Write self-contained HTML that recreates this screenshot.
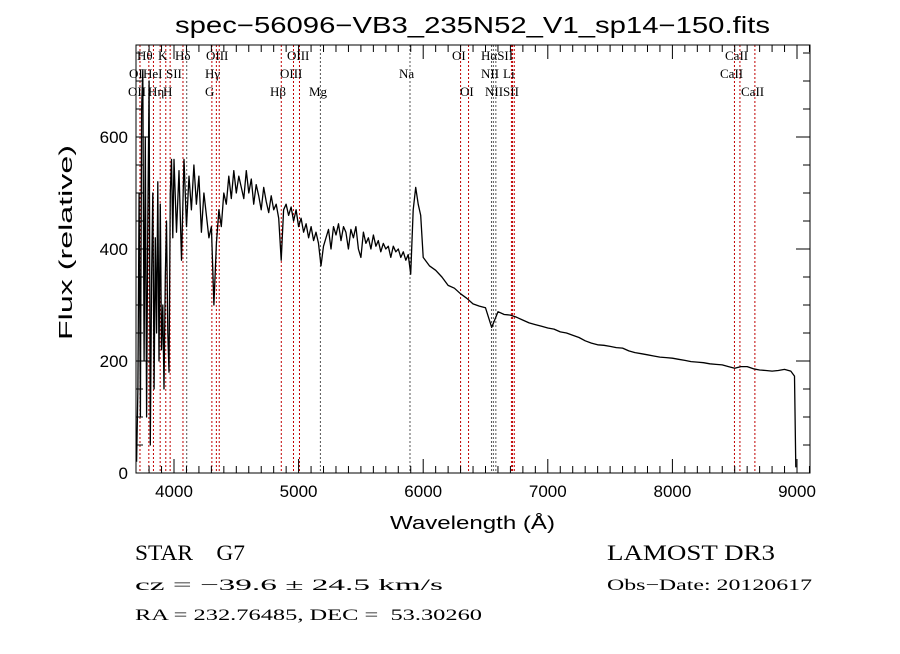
<!DOCTYPE html>
<html><head><meta charset="utf-8"><style>
body{margin:0;background:#fff;}
svg text{font-family:"Liberation Sans",sans-serif;}
.lab{font-family:"Liberation Serif",serif;font-size:13px;}
.ser{font-family:"Liberation Serif",serif;white-space:pre;}
</style></head><body>
<svg id="chart" width="900" height="649" xmlns="http://www.w3.org/2000/svg">
<rect width="900" height="649" fill="#fff"/>
<text x="175" y="33" font-size="23" textLength="595" lengthAdjust="spacingAndGlyphs">spec−56096−VB3_235N52_V1_sp14−150.fits</text>
<g id="lines"></g>
<g id="spec"></g>
<g id="axes"></g>
<text x="390" y="529" font-size="18" textLength="165" lengthAdjust="spacingAndGlyphs">Wavelength (Å)</text>
<text transform="translate(72,340) rotate(-90)" font-size="18" textLength="195" lengthAdjust="spacingAndGlyphs">Flux (relative)</text>
<text class="ser" x="135" y="560" font-size="22" textLength="110" lengthAdjust="spacingAndGlyphs">STAR    G7</text>
<text class="ser" x="135" y="590" font-size="16" textLength="308" lengthAdjust="spacingAndGlyphs">cz = −39.6 ± 24.5 km/s</text>
<text class="ser" x="135" y="620" font-size="16" textLength="347" lengthAdjust="spacingAndGlyphs">RA = 232.76485, DEC =  53.30260</text>
<text class="ser" x="607" y="560" font-size="22" textLength="168" lengthAdjust="spacingAndGlyphs">LAMOST DR3</text>
<text class="ser" x="607" y="590" font-size="16" textLength="205" lengthAdjust="spacingAndGlyphs">Obs−Date: 20120617</text>
</svg>
<script>
const blueFlux=[20,150,500,100,650,720,200,600,100,450,700,50,350,500,150,420,250,520,200,480,220,300,150,350,450,250,180,500,560,420];
const midFlux=[560,430,540,380,560,440,530,470,550,480,530,430,500,460,420,440,300,410,470,440,500,480,530,490,540,500,530,510,490,540,500,525,480,515,495,470,510,485,465,495,470,480,455,380,470,480,460,475,450,470,440,455,430,445,420,440,415,430,410,370,405,420,435,400,440,425,445,415,440,430,400,435,420,440,400,385,430,410,420,400,425,405,415,395,410,400,405,385,405,395,400,385,395,380,390,355,470,510,480,460];
const redFlux=[385,370,362,350,335,330,320,312,302,298,295,260,288,283,282,278,273,268,265,262,259,257,252,250,246,242,236,232,229,228,226,224,223,218,215,213,211,209,207,206,205,203,201,199,198,197,195,194,193,190,187,190,190,186,184,183,182,183,185,182];
const tailWave=[8980,8990];
const tailFlux=[173,10];
const lineWaves=[3727,3798,3835,3889,3934,3969,4072,4102,4304,4340,4363,4861,4959,5007,5175,5894,6300,6364,6548,6563,6583,6708,6717,6731,8498,8542,8662];
const lineBlack=[false,false,false,false,false,false,false,true,false,false,false,false,false,false,true,true,false,false,true,true,true,false,false,false,false,false,false];
const xTicks=[4000,5000,6000,7000,8000,9000];
const yTicks=[0,200,400,600];
const labels=[["Hθ",137,60],["K",158,60],["Hδ",175,60],["OIII",206,60],["OIII",287,60],["OI",452,60],["HαSII",481,60],["CaII",725,60],
["OI",129,78],["HeI",143,78],["SII",166,78],["Hγ",205,78],["OIII",280,78],["Na",399,78],["NII",481,78],["Li",503,78],["CaII",720,78],
["OII",128,96],["Hη",148,96],["H",163,96],["G",205,96],["Hβ",270,96],["Mg",309,96],["OI",460,96],["NIISII",485,96],["CaII",741,96]];
const wave=[],flux=[];
blueFlux.forEach((f,i)=>{wave.push(3700+i*10);flux.push(f);});
midFlux.forEach((f,i)=>{wave.push(4000+i*20);flux.push(f);});
redFlux.forEach((f,i)=>{wave.push(6000+i*50);flux.push(f);});
tailFlux.forEach((f,i)=>{wave.push(tailWave[i]);flux.push(f);});
const L=136,R=810,T=45,B=473;
const X=w=>174+(w-4000)*0.1246;
const Y=f=>B-f*0.56;
const NS="http://www.w3.org/2000/svg";
function mk(tag,attrs,parent){const e=document.createElementNS(NS,tag);for(const k in attrs)e.setAttribute(k,attrs[k]);parent.appendChild(e);return e;}
const gl=document.getElementById('lines');
lineWaves.forEach((w,i)=>{
  const e=mk('line',{x1:X(w),x2:X(w),y1:T,y2:B,stroke:lineBlack[i]?'#555':'#c00000','stroke-width':1,'stroke-dasharray':'2,2'},gl);
  
  
});
labels.forEach(l=>{
  const t=mk('text',{x:l[1],y:l[2],class:'lab'},gl);t.textContent=l[0];
  
  
});
const gs=document.getElementById('spec');
let d='';
wave.forEach((w,i)=>{d+=(i?'L':'M')+X(w).toFixed(1)+','+Y(flux[i]).toFixed(1);});
const p=mk('path',{d:d,fill:'none',stroke:'#000','stroke-width':1.3,'stroke-linejoin':'round'},gs);


const ga=document.getElementById('axes');
const fr=mk('rect',{x:L,y:T,width:R-L,height:B-T,fill:'none',stroke:'#000','stroke-width':1},ga);


for(let w=3800;w<=9100;w+=100){const x=X(w);if(x<L||x>R)continue;const big=w%1000===0;
  mk('line',{x1:x,x2:x,y1:B,y2:B-(big?14:7),stroke:'#000'},ga);mk('line',{x1:x,x2:x,y1:T,y2:T+(big?14:7),stroke:'#000'},ga);}
for(let f=0;f<=750;f+=50){const y=Y(f);if(y<T)continue;const big=f%200===0;
  mk('line',{x1:L,x2:L+(big?14:7),y1:y,y2:y,stroke:'#000'},ga);mk('line',{x1:R,x2:R-(big?14:7),y1:y,y2:y,stroke:'#000'},ga);}
xTicks.forEach(v=>{const t=mk('text',{x:X(v),y:B+24,'text-anchor':'middle','font-size':17},ga);t.textContent=v;
  
  });
yTicks.forEach(v=>{const t=mk('text',{x:L-8,y:Y(v)+6,'text-anchor':'end','font-size':17},ga);t.textContent=v;
  
  });
</script>
</body></html>
